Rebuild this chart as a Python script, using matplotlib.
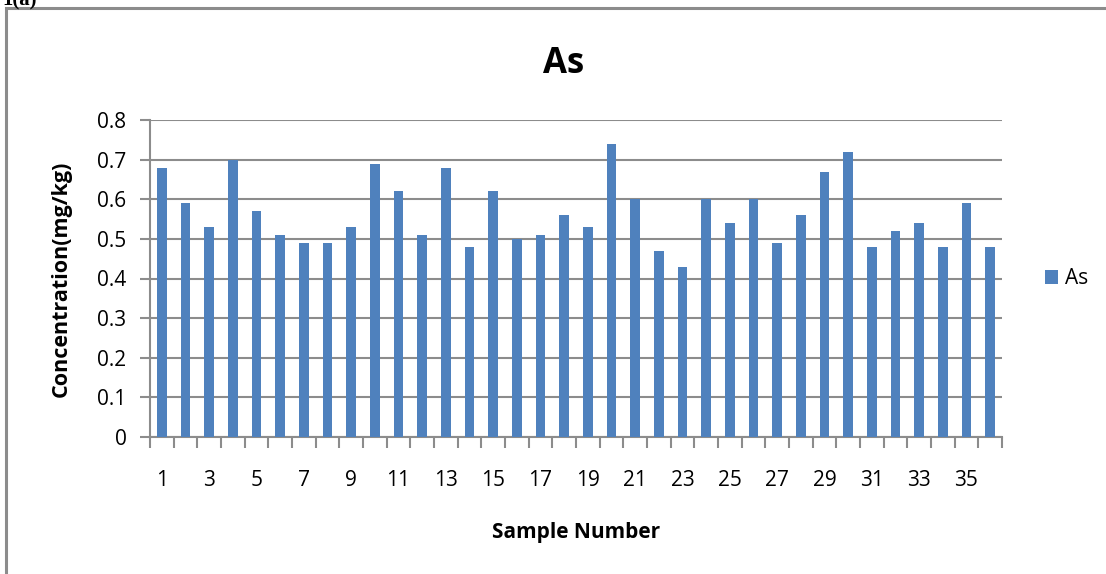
import numpy as np
import matplotlib.pyplot as plt
from matplotlib.patches import Rectangle

# As concentration per sample (mg/kg)
samples = np.arange(1, 37)
as_conc = [0.68, 0.59, 0.53, 0.70, 0.57, 0.51, 0.49, 0.49, 0.53, 0.69,
           0.62, 0.51, 0.68, 0.48, 0.62, 0.50, 0.51, 0.56, 0.53, 0.74,
           0.60, 0.47, 0.43, 0.60, 0.54, 0.60, 0.49, 0.56, 0.67, 0.72,
           0.48, 0.52, 0.54, 0.48, 0.59, 0.48]
y_ticks = [0, 0.1, 0.2, 0.3, 0.4, 0.5, 0.6, 0.7, 0.8]

plt.rcParams['font.family'] = ['Open Sans', 'DejaVu Sans']

W, H = 1106, 574
fig = plt.figure(figsize=(W / 100, H / 100), dpi=100)

# outer chart frame (right/bottom run off the page)
fig.patches.append(Rectangle((6 / W, -0.05), 1.1, 1 - 8 / H + 0.05,
                             transform=fig.transFigure, fill=False,
                             edgecolor='#8c8c8c', linewidth=2.2))
fig.text(2 / W, 1 - 5 / H, '1(a)', family='Liberation Serif', weight='bold',
         fontsize=15, ha='left', va='baseline')

ax = fig.add_axes([150 / W, 1 - 437 / H, (1002 - 150) / W, (437 - 120) / H])
grid_c = '#8c8c8c'
ax.bar(samples, as_conc, width=0.42, color='#4F81BD', label='As', zorder=3)
ax.set_xlim(0.5, 36.5)
ax.set_ylim(0, 0.8)
ax.set_yticks(y_ticks)
ax.set_yticklabels(['0' if v == 0 else f'{v:.1f}' for v in y_ticks])
ax.yaxis.grid(True, color=grid_c, linewidth=1.5, zorder=0)

# category-boundary ticks, labels on odd samples
ax.set_xticks(np.arange(0.5, 37, 1), minor=False)
ax.set_xticklabels([])
ax.set_xticks(samples[::2], minor=True)
ax.set_xticklabels([str(s) for s in samples[::2]], minor=True)
ax.tick_params(axis='x', which='major', length=8, width=1.5, color=grid_c, direction='out')
ax.tick_params(axis='x', which='minor', length=0, pad=24, labelsize=15)
ax.tick_params(axis='y', length=7, width=1.5, color=grid_c, labelsize=15, pad=10)

for s in ['top', 'right']:
    ax.spines[s].set_visible(False)
for s in ['left', 'bottom']:
    ax.spines[s].set_color(grid_c)
    ax.spines[s].set_linewidth(1.5)

ax.set_title('As', fontsize=25, fontweight='bold', pad=34, x=0.485)
ax.set_xlabel('Sample Number', fontsize=15, fontweight='bold', labelpad=22, x=0.5)
ax.set_ylabel('Concentration(mg/kg)', fontsize=15.5, fontweight='bold', labelpad=18)

ax.legend(loc='center left', bbox_to_anchor=(1.028, 0.5), frameon=False,
          fontsize=15, handlelength=0.65, handleheight=0.65, handletextpad=0.35)

fig.savefig('out.png', dpi=100)
